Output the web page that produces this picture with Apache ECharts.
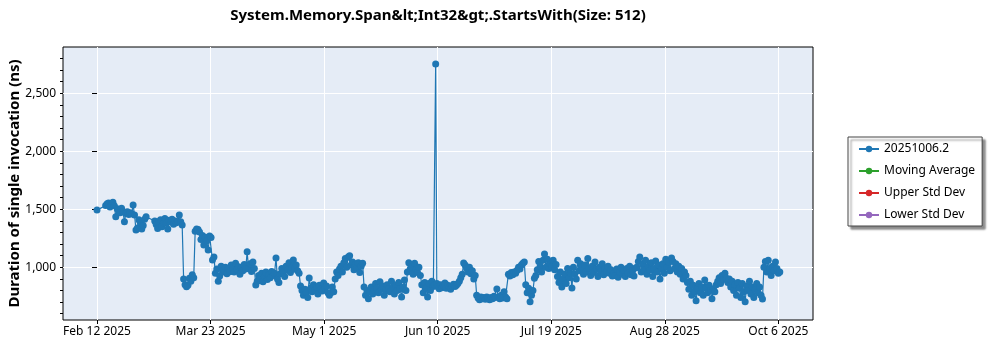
<!DOCTYPE html>
<html>
<head>
<meta charset="utf-8">
<title>System.Memory.Span&lt;Int32&gt;.StartsWith(Size: 512)</title>
<script src="https://cdn.jsdelivr.net/npm/echarts@6/dist/echarts.min.js"></script>
<style>
  html, body { margin: 0; padding: 0; background: #ffffff; }
  #chart { width: 1000px; height: 350px; }
</style>
</head>
<body>
<div id="chart"></div>
<script>
// Benchmark history: run time in days after Feb 12 2025, duration in ns.
const runDay = [
  0,
  3, 3.5, 4, 4.5, 5, 5.5, 6, 6.5, 7,
  7.5, 8, 8.5, 9, 9.5, 10, 10.5, 11, 11.5, 12, 12.5, 13,
  13.5, 14, 14.5, 15, 15.5, 16, 16.5, 17,
  20, 20.5, 21, 21.5, 22, 22.5, 23, 23.5, 24, 24.5, 25, 25.5, 26, 26.5, 27, 27.5, 28, 28.5, 29, 29.5,
  30, 30.5, 31, 31.5, 32, 32.5, 33, 33.5,
  34, 34.5, 35, 35.5,
  36, 36.5, 37, 37.5, 38, 38.5, 39, 39.5, 40, 40.5,
  41, 41.5, 42, 42.5, 43, 43.5, 44, 44.5, 45, 45.5, 46, 46.5, 47, 47.5, 48, 48.5, 49, 49.5, 50, 50.5, 51, 51.5, 52, 52.5, 53, 53.5, 54, 54.5,
  55, 55.5, 56, 56.5, 57, 57.5, 58, 58.5, 59, 59.5, 60, 60.5, 61, 61.5, 62,
  62.5, 63, 63.5, 64, 64.5, 65, 65.5, 66, 66.5, 67, 67.5, 68, 68.5, 69, 69.5, 70,
  70.5, 71, 71.5, 72, 72.5, 73, 73.5, 74, 74.5, 75, 75.5, 76, 76.5, 77, 77.5, 78, 78.5, 79, 79.5, 80, 80.5,
  81, 81.5, 82, 82.5, 83, 83.5, 84, 84.5, 85, 85.5, 86, 86.5, 87, 87.5, 88, 88.5, 89, 89.5, 90, 90.5, 91, 91.5, 92,
  92.5, 93, 93.5, 94, 94.5, 95, 95.5, 96, 96.5, 97, 97.5, 98, 98.5, 99, 99.5, 100, 100.5, 101, 101.5, 102, 102.5, 103, 103.5, 104, 104.5, 105, 105.5, 106, 106.5, 107,
  107.5, 108, 108.5, 109, 109.5, 110, 110.5, 111, 111.5, 112,
  112.5, 113, 113.5, 114, 114.5, 115, 115.5, 116, 116.5, 117,
  117.3,
  117.7, 118, 118.5, 119, 119.5, 120, 120.5, 121, 121.5, 122, 122.5, 123, 123.5, 124, 124.5, 125,
  125.5, 126, 126.5, 127, 127.5, 128, 128.5, 129, 129.5, 130, 130.5, 131,
  131.5, 132, 132.5, 133, 133.5, 134, 134.5, 135, 135.5, 136, 136.5, 137, 137.5, 138, 138.5, 139, 139.5, 140, 140.5, 141, 141.5, 142,
  142.5, 143, 143.5, 144, 144.5, 145, 145.5, 146, 146.5, 147, 147.5, 148,
  148.5, 149, 149.5, 150, 150.5, 151,
  151.5, 152, 152.5, 153, 153.5, 154, 154.5, 155, 155.5, 156, 156.5, 157, 157.5, 158, 158.5, 159,
  159.5, 160, 160.5, 161, 161.5, 162, 162.5, 163, 163.5, 164, 164.5, 165, 165.5, 166, 166.5, 167, 167.5, 168,
  168.5, 169, 169.5, 170, 170.5, 171, 171.5, 172, 172.5, 173, 173.5, 174, 174.5, 175, 175.5, 176, 176.5, 177, 177.5, 178, 178.5,
  179, 179.5, 180, 180.5, 181, 181.5, 182, 182.5, 183, 183.5, 184, 184.5, 185, 185.5, 186, 186.5,
  187, 187.5, 188, 188.5, 189, 189.5, 190, 190.5, 191, 191.5, 192, 192.5, 193, 193.5, 194, 194.5, 195, 195.5, 196, 196.5, 197, 197.5, 198, 198.5, 199,
  199.5, 200, 200.5, 201, 201.5, 202, 202.5, 203, 203.5, 204,
  204.5, 205, 205.5, 206, 206.5, 207, 207.5, 208, 208.5, 209, 209.5, 210, 210.5, 211, 211.5, 212, 212.5, 213, 213.5, 214,
  214.5, 215, 215.5, 216, 216.5, 217, 217.5, 218, 218.5, 219, 219.5,
  220, 220.5, 221, 221.5, 222, 222.5, 223, 223.5, 224, 224.5, 225, 225.5, 226, 226.5, 227, 227.5, 228, 228.5,
  229, 229.5, 230, 230.5,
  231, 231.5, 232, 232.5, 233, 233.5, 234, 234.5, 235, 235.5, 236, 236.5
];

const durationNs = [
  1494,
  1532, 1548, 1555, 1520, 1545, 1560, 1530, 1436, 1505,
  1490, 1470, 1510, 1480, 1393, 1465, 1478, 1455, 1470, 1462, 1537, 1452,
  1322, 1340, 1410, 1385, 1330, 1360, 1415, 1436,
  1400, 1370, 1335, 1395, 1410, 1350, 1385, 1420, 1380, 1330, 1405, 1390, 1415, 1372, 1400, 1384, 1395, 1451, 1392, 1365,
  900, 850, 833, 845, 905, 880, 935, 910,
  1312, 1330, 1325, 1305,
  1240, 1275, 1192, 1260, 1230, 1149, 1270, 1258, 1063, 1090,
  950, 985, 880, 925, 1010, 960, 975, 1000, 945, 990, 962, 1020, 995, 960, 1035, 980, 1005, 940, 1000, 970, 1025, 985, 1134, 990, 1030, 965, 1045, 990,
  847, 880, 930, 905, 950, 875, 920, 960, 895, 935, 910, 965, 930, 950, 1080,
  900, 870, 945, 990, 960, 920, 1010, 975, 1040, 955, 1000, 1063, 985, 1020, 970, 950,
  840, 800, 760, 810, 780, 741, 908, 820, 790, 850, 805, 830, 770, 845, 812, 795, 865, 820, 840, 780, 760,
  780, 830, 790, 900, 960, 930, 985, 1010, 960, 1040, 1075, 1000, 1090, 1100, 1020, 1045, 980, 1030, 1000, 1040, 955, 1010, 1035,
  830, 760, 800, 730, 790, 830, 770, 805, 860, 820, 780, 875, 810, 840, 760, 800, 850, 815, 790, 880, 825, 770, 845, 800, 870, 815, 745, 830, 890, 800,
  960, 1040, 985, 1000, 940, 1035, 980, 955, 1000, 930,
  850, 780, 870, 820, 745, 860, 800, 880, 835, 850,
  2752,
  860, 835, 815, 850, 825, 840, 865, 820, 845, 830, 810, 840, 855, 835, 845, 860,
  880, 910, 940, 1037, 1020, 990, 960, 1000, 945, 970, 900, 930,
  760, 735, 720, 745, 730, 740, 725, 745, 735, 720, 740, 730, 750, 740, 813, 745, 730, 760, 735, 790, 745, 730,
  940, 925, 955, 935, 960, 950, 975, 1000, 985, 1020, 1035, 1045,
  850, 780, 820, 703, 760, 800,
  905, 930, 980, 1050, 1010, 960, 1060, 1115, 1000, 1070, 990, 1030, 1005, 1060, 980, 1025,
  920, 870, 960, 830, 900, 940, 860, 990, 910, 950, 822, 1000, 945, 900, 1060, 970, 1030, 1000,
  940, 1020, 960, 1075, 990, 930, 1010, 955, 1045, 985, 920, 1000, 960, 1030, 935, 990, 960, 1010, 950, 980, 925,
  950, 930, 985, 915, 960, 1000, 940, 975, 920, 990, 950, 1010, 935, 970, 925, 995,
  1000, 1050, 1090, 960, 1030, 980, 1060, 940, 1010, 975, 1040, 920, 990, 1055, 960, 1020, 900, 985, 1030, 950, 1070, 1000, 1045, 970, 1080,
  1050, 990, 1030, 960, 1010, 940, 990, 900, 960, 930,
  870, 810, 880, 760, 845, 790, 712, 820, 860, 780, 830, 760, 890, 820, 780, 845, 800, 730, 815, 790,
  850, 880, 910, 860, 930, 895, 950, 905, 870, 900, 830,
  880, 800, 850, 760, 870, 820, 740, 860, 790, 703, 840, 800, 880, 770, 830, 740, 810, 860,
  780, 830, 760, 727,
  1000, 1050, 960, 1060, 990, 930, 1010, 970, 1045, 990, 950, 960
];

// Series shown in the legend
const seriesNames = ['20251006.2', 'Moving Average', 'Upper Std Dev', 'Lower Std Dev'];
const seriesColors = ['#1f77b4', '#2ca02c', '#d62728', '#9467bd'];

// Date axis ticks (days after Feb 12 2025) and their labels
const xTickDays = [0, 39.333, 78.667, 118, 157.333, 196.667, 236];
const xTickLabels = ['Feb 12 2025', 'Mar 23 2025', 'May 1 2025', 'Jun 10 2025', 'Jul 19 2025', 'Aug 28 2025', 'Oct 6 2025'];

// Duration axis ticks
const yTickValues = [1000, 1500, 2000, 2500];
const yTickLabels = ['1,000', '1,500', '2,000', '2,500'];
const yMinorTickValues = [600, 700, 800, 900, 1000, 1100, 1200, 1300, 1400, 1500, 1600, 1700,
  1800, 1900, 2000, 2100, 2200, 2300, 2400, 2500, 2600, 2700, 2800];

const FONT = '"Noto Sans", "Open Sans", sans-serif';

const mainPoints = runDay.map((d, i) => [d, durationNs[i]]);

const chart = echarts.init(document.getElementById('chart'), null, { renderer: 'canvas' });

const series = seriesNames.map((name, i) => ({
  name: name,
  type: 'line',
  data: i === 0 ? mainPoints : [],
  symbol: 'circle',
  symbolSize: 7,
  showSymbol: true,
  lineStyle: { color: seriesColors[i], width: 1.2 },
  itemStyle: { color: seriesColors[i] },
  emphasis: { disabled: true },
  animation: false
}));

chart.setOption({
  animation: false,
  textStyle: { fontFamily: FONT },
  title: {
    text: 'System.Memory.Span&lt;Int32&gt;.StartsWith(Size: 512)',
    left: 438,
    top: 8,
    textAlign: 'center',
    padding: 0,
    textStyle: { fontFamily: FONT, fontSize: 15, fontWeight: 'bold', color: '#000' }
  },
  legend: {
    orient: 'vertical',
    left: 848,
    top: 137,
    padding: [6, 7, 5, 10],
    itemGap: 10,
    itemWidth: 20,
    itemHeight: 8,
    backgroundColor: '#ffffff',
    borderColor: '#444444',
    borderWidth: 1,
    borderRadius: 0,
    shadowColor: 'rgba(0,0,0,0.45)',
    shadowOffsetX: 3,
    shadowOffsetY: 3,
    shadowBlur: 2,
    selectedMode: false,
    data: seriesNames,
    textStyle: { fontFamily: FONT, fontSize: 12, color: '#000' }
  },
  grid: {
    left: 63,
    right: 187,
    top: 47,
    bottom: 30,
    containLabel: false,
    outerBoundsMode: 'none',
    show: true,
    backgroundColor: '#e5ecf6',
    borderColor: '#000000',
    borderWidth: 1
  },
  xAxis: {
    type: 'value',
    min: -11.78,
    max: 248.0,
    axisLine: { show: false },
    axisTick: {
      show: true,
      customValues: xTickDays,
      length: 4,
      lineStyle: { color: '#000', width: 1 }
    },
    axisLabel: {
      customValues: xTickDays,
      margin: 6,
      color: '#000',
      fontFamily: FONT,
      fontSize: 12,
      formatter: function (v) {
        const i = xTickDays.findIndex(t => Math.abs(t - v) < 0.01);
        return i >= 0 ? xTickLabels[i] : '';
      }
    },
    splitLine: { show: true, lineStyle: { color: '#ffffff', width: 1 } }
  },
  yAxis: [
    {
      type: 'value',
      min: 546,
      max: 2899,
      name: 'Duration of single invocation (ns)',
      nameLocation: 'middle',
      nameGap: 41,
      nameMoveOverlap: false,
      nameTextStyle: { fontFamily: FONT, fontSize: 15, fontWeight: 'bold', color: '#000' },
      axisLine: { show: false },
      axisTick: {
        show: true,
        customValues: yTickValues,
        length: 5,
        lineStyle: { color: '#000', width: 1 }
      },
      axisLabel: {
        customValues: yTickValues,
        margin: 7,
        color: '#000',
        fontFamily: FONT,
        fontSize: 12,
        formatter: function (v) {
          const i = yTickValues.indexOf(Math.round(v));
          return i >= 0 ? yTickLabels[i] : '';
        }
      },
      splitLine: { show: true, lineStyle: { color: '#ffffff', width: 1 } }
    },
    {
      type: 'value',
      min: 546,
      max: 2899,
      position: 'left',
      axisLine: { show: false },
      axisTick: {
        show: true,
        customValues: yMinorTickValues,
        length: 3,
        lineStyle: { color: '#000', width: 1 }
      },
      axisLabel: { show: false },
      splitLine: { show: false }
    }
  ],
  series: series
});
</script>
</body>
</html>
